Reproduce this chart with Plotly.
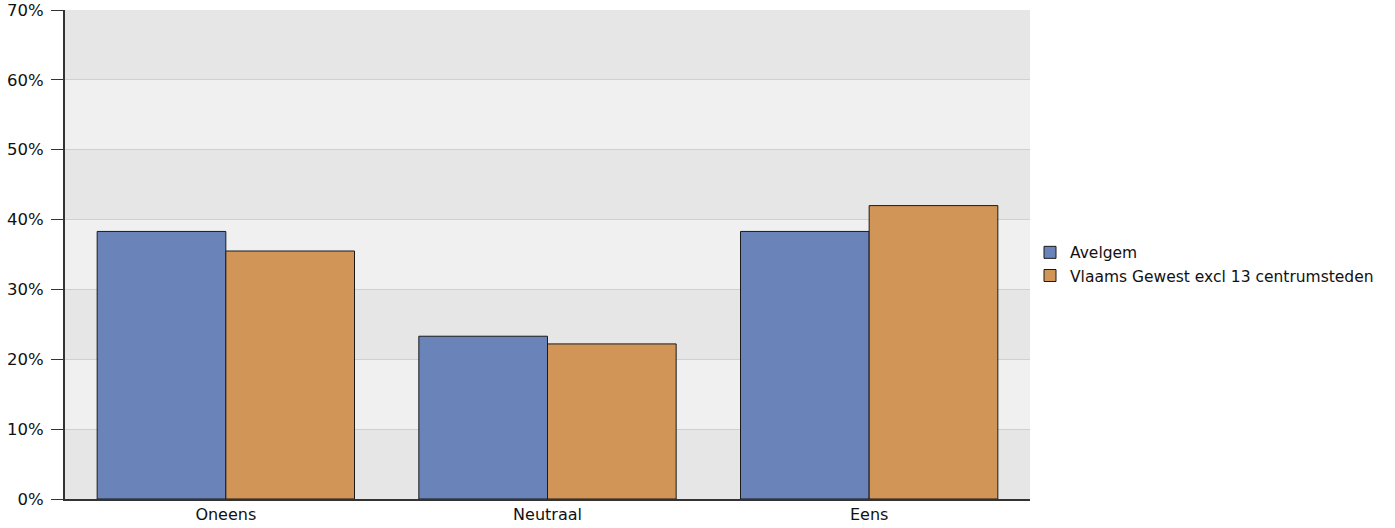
import plotly.graph_objects as go

categories = ["Oneens", "Neutraal", "Eens"]
avelgem = [38.3, 23.3, 38.3]
vlaams = [35.5, 22.2, 42.0]
series_names = ["Avelgem", "Vlaams Gewest excl 13 centrumsteden"]
tick_vals = [0, 10, 20, 30, 40, 50, 60, 70]
tick_text = ["0%", "10%", "20%", "30%", "40%", "50%", "60%", "70%"]

fig = go.Figure()
fig.add_trace(go.Bar(x=categories, y=avelgem, name=series_names[0],
                     marker=dict(color="#6a84ba", line=dict(color="#1a1a1a", width=1))))
fig.add_trace(go.Bar(x=categories, y=vlaams, name=series_names[1],
                     marker=dict(color="#d29558", line=dict(color="#1a1a1a", width=1))))

shapes = []
for i in range(0, 70, 20):
    shapes.append(dict(type="rect", xref="paper", yref="y", x0=0, x1=1, y0=i, y1=i + 10,
                       fillcolor="#e6e6e6", line=dict(width=0), layer="below"))

fig.update_layout(
    width=1395, height=528,
    margin=dict(l=65, r=365, t=10, b=29),
    paper_bgcolor="white", plot_bgcolor="#f0f0f0",
    barmode="group", bargap=0.2, bargroupgap=0,
    font=dict(family="DejaVu Sans", size=15.5, color="#111111"),
    shapes=shapes,
    legend=dict(x=1.0, y=0.48, xanchor="left", yanchor="middle",
                bgcolor="rgba(0,0,0,0)", font=dict(size=15.5), tracegroupgap=0),
    xaxis=dict(showgrid=False, showline=True, linecolor="#333333", linewidth=1.5,
               ticks="", tickfont=dict(size=16), automargin=False),
    yaxis=dict(range=[0, 70], tickvals=tick_vals, ticktext=tick_text,
               showgrid=True, gridcolor="#d0d0d0", gridwidth=1,
               showline=True, linecolor="#333333", linewidth=2,
               ticks="outside", ticklen=12, tickcolor="#333333",
               ticklabelstandoff=4,
               tickfont=dict(size=16.5), zeroline=False, automargin=False),
)
fig.update_yaxes(layer="below traces")
fig.write_html("out.html", config={"displayModeBar": False},
               post_script="document.body.style.margin='0';document.body.style.overflow='hidden';")
